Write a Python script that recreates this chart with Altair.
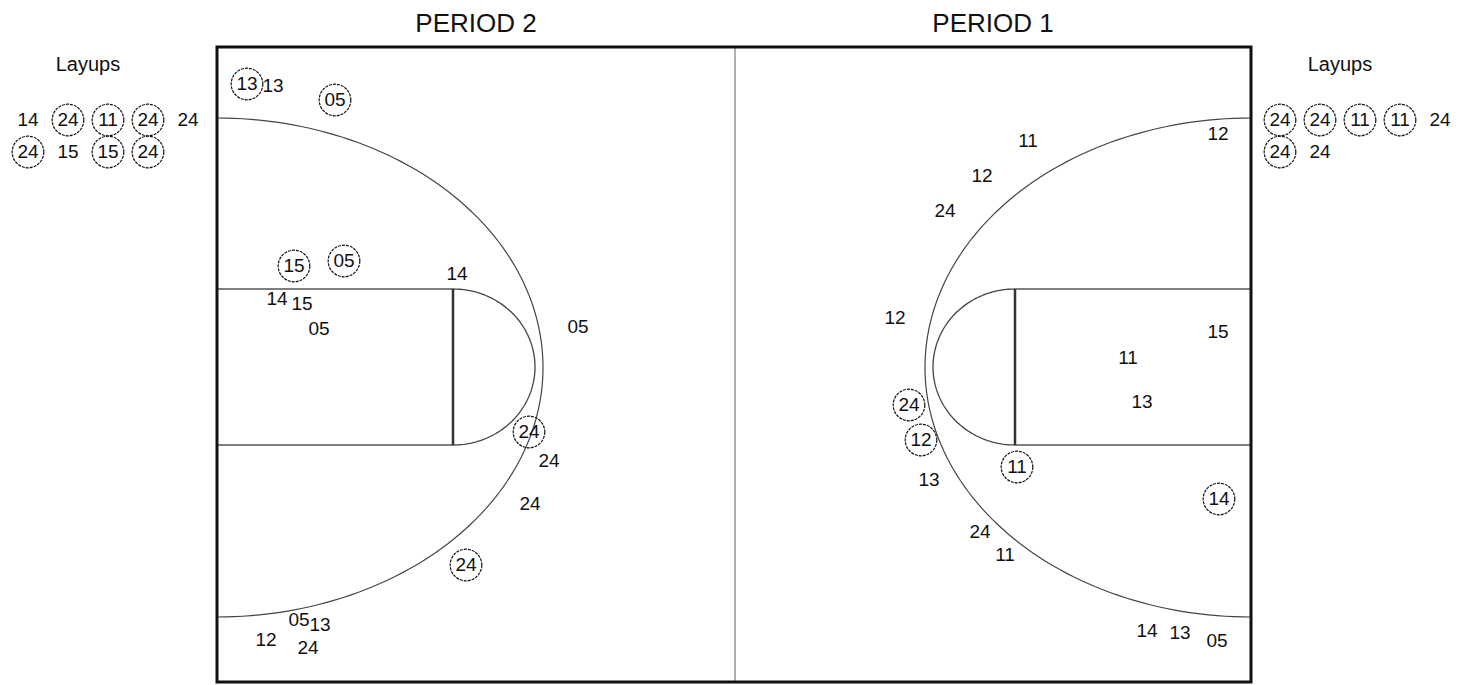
import altair as alt
import pandas as pd
import numpy as np

# ---------------- data (court units: x right from left baseline, y down from top sideline)
# Period 2 (left half)
p2_label = ["13", "13", "05", "15", "05", "14", "14", "15", "05", "05",
            "24", "24", "24", "24", "05", "13", "12", "24"]
p2_made = [1, 0, 1, 1, 1, 0, 0, 0, 0, 0, 1, 0, 0, 1, 0, 0, 0, 0]
p2_x = [30, 56, 118, 77, 127, 240, 60, 85, 102, 361, 312, 332, 313, 249, 82, 103, 49, 91]
p2_y = [37, 39, 53, 219, 214, 227, 252, 257, 282, 280, 385, 414, 457, 518, 573, 578, 593, 601]

# Period 1 (right half)
p1_label = ["11", "12", "24", "12", "12", "15", "11", "13", "24", "12",
            "13", "11", "14", "24", "11", "14", "13", "05"]
p1_made = [0, 0, 0, 0, 0, 0, 0, 0, 1, 1, 0, 1, 1, 0, 0, 0, 0, 0]
p1_x = [811, 765, 728, 1001, 678, 1001, 911, 925, 692, 704, 712, 800, 1002, 763, 788, 930, 963, 1000]
p1_y = [94, 129, 164, 87, 271, 285, 311, 355, 358, 393, 433, 420, 452, 485, 508, 584, 586, 594]

# Layups
p2_layup_rows = [["14", "24", "11", "24", "24"], ["24", "15", "15", "24"]]
p2_layup_made = [[0, 1, 1, 1, 0], [1, 0, 1, 1]]
p1_layup_rows = [["24", "24", "11", "11", "24"], ["24", "24"]]
p1_layup_made = [[1, 1, 1, 1, 0], [1, 0]]

titles = ["PERIOD 2", "PERIOD 1"]

# ---------------- court geometry
CW, CH = 1034, 635
MID = 518
ARC_CY, ARC_RX, ARC_RY = 320.5, 326, 249.5
KEY_LEN, KEY_TOP, KEY_BOT = 236, 242, 398
FT_RX, FT_RY = 82, 78

FONT = "Liberation Sans"
TXT = "#111111"

shots = pd.DataFrame({
    "label": p2_label + p1_label,
    "made": p2_made + p1_made,
    "x": p2_x + p1_x,
    "y": p2_y + p1_y,
})

lay_rows = []
for side, rows, mades in [("L", p2_layup_rows, p2_layup_made), ("R", p1_layup_rows, p1_layup_made)]:
    x0 = -189 if side == "L" else 1063
    for r, (row, mrow) in enumerate(zip(rows, mades)):
        for c, (lab, m) in enumerate(zip(row, mrow)):
            lay_rows.append({"label": lab, "made": m, "x": x0 + 40 * c, "y": 73 + 32 * r})
layups = pd.DataFrame(lay_rows)
pts = pd.concat([shots, layups], ignore_index=True)

lay_titles = pd.DataFrame({"label": ["Layups", "Layups"], "x": [-129, 1123], "y": [17.5, 17.5]})
period_titles = pd.DataFrame({"label": titles, "x": [MID / 2, (MID + CW) / 2], "y": [-23.5, -23.5]})

# arcs
t = np.linspace(-np.pi / 2, np.pi / 2, 121)
arc_rows = []
for seg, (cx, sgn) in enumerate([(0, 1), (CW, -1)]):
    for i, tt in enumerate(t):
        arc_rows.append({"seg": seg, "o": i, "x": cx + sgn * ARC_RX * np.cos(tt),
                         "y": ARC_CY + ARC_RY * np.sin(tt)})
arcs = pd.DataFrame(arc_rows)

ft_rows = []
FT_CY = (KEY_TOP + KEY_BOT) / 2
for seg, (cx, sgn) in enumerate([(KEY_LEN, 1), (CW - KEY_LEN, -1)]):
    for i, tt in enumerate(t):
        ft_rows.append({"seg": seg, "o": i, "x": cx + sgn * FT_RX * np.cos(tt),
                        "y": FT_CY + FT_RY * np.sin(tt)})
fts = pd.DataFrame(ft_rows)

key_lines = pd.DataFrame({
    "x": [0, 0, CW - KEY_LEN, CW - KEY_LEN],
    "x2": [KEY_LEN, KEY_LEN, CW, CW],
    "y": [KEY_TOP, KEY_BOT, KEY_TOP, KEY_BOT],
    "y2": [KEY_TOP, KEY_BOT, KEY_TOP, KEY_BOT],
})
ft_lines = pd.DataFrame({"x": [KEY_LEN, CW - KEY_LEN], "x2": [KEY_LEN, CW - KEY_LEN],
                         "y": [KEY_TOP, KEY_TOP], "y2": [KEY_BOT, KEY_BOT]})
mid_line = pd.DataFrame({"x": [MID], "x2": [MID], "y": [0], "y2": [CH]})
border = pd.DataFrame({"x": [0], "x2": [CW], "y": [0], "y2": [CH]})

XS = alt.Scale(domain=[-209, 1245], nice=False, zero=False)
YS = alt.Scale(domain=[-39, 638], nice=False, zero=False, reverse=True)


def X(f="x"):
    return alt.X(f"{f}:Q", scale=XS, axis=None)


def Y(f="y"):
    return alt.Y(f"{f}:Q", scale=YS, axis=None)


mid = alt.Chart(mid_line).mark_rule(color="#7a7a7a", strokeWidth=1.2).encode(
    x=X(), x2="x2:Q", y=Y(), y2="y2:Q")
arc_layer = alt.Chart(arcs).mark_line(color="#444444", strokeWidth=1.2).encode(
    x=X(), y=Y(), detail="seg:N", order="o:Q")
ft_layer = alt.Chart(fts).mark_line(color="#444444", strokeWidth=1.3).encode(
    x=X(), y=Y(), detail="seg:N", order="o:Q")
key_layer = alt.Chart(key_lines).mark_rule(color="#555555", strokeWidth=1.5).encode(
    x=X(), x2="x2:Q", y=Y(), y2="y2:Q")
ftl_layer = alt.Chart(ft_lines).mark_rule(color="#333333", strokeWidth=2.5).encode(
    x=X(), x2="x2:Q", y=Y(), y2="y2:Q")
border_layer = alt.Chart(border).mark_rect(fillOpacity=0, stroke="#111111", strokeWidth=3).encode(
    x=X(), x2="x2:Q", y=Y(), y2="y2:Q")

circles = alt.Chart(pts).transform_filter("datum.made == 1").mark_point(
    shape="circle", filled=False, size=1000, color="#111111", strokeWidth=1.2,
    strokeDash=[3, 1], opacity=1).encode(x=X(), y=Y())
labels = alt.Chart(pts).mark_text(font=FONT, fontSize=19, color=TXT, baseline="middle",
                                  align="center").encode(x=X(), y=Y(), text="label:N")
lay_t = alt.Chart(lay_titles).mark_text(font=FONT, fontSize=20, color=TXT, baseline="middle",
                                        align="center").encode(x=X(), y=Y(), text="label:N")
per_t = alt.Chart(period_titles).mark_text(font=FONT, fontSize=26, color="#111111", baseline="middle",
                                           align="center").encode(x=X(), y=Y(), text="label:N")

chart = alt.layer(mid, arc_layer, ft_layer, key_layer, ftl_layer, border_layer,
                  circles, labels, lay_t, per_t).properties(
    width=1454, height=677, padding=0, autosize=alt.AutoSizeParams(type="none"),
    background="white",
).configure_view(stroke=None)

chart.save("out.html", embed_options={"renderer": "svg", "actions": False})
